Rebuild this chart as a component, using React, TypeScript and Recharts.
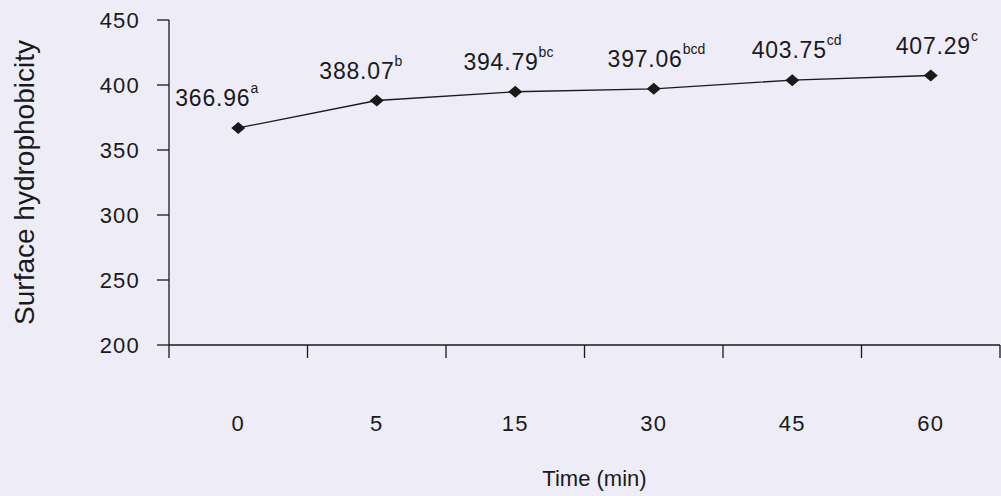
import { LineChart, Line, XAxis, YAxis, LabelList } from "recharts";

const times = ["0", "5", "15", "30", "45", "60"];
const hydrophobicity = [366.96, 388.07, 394.79, 397.06, 403.75, 407.29];
const letters = ["a", "b", "bc", "bcd", "cd", "c"];
const yTicks = [200, 250, 300, 350, 400, 450];

const INK = "#1a1a1a";
const FONT = "'Liberation Sans', Arial, sans-serif";

// slot centres sit at i + 0.5, slot boundaries on the integers
const data = times.map((t, i) => ({
  pos: i + 0.5,
  time: t,
  value: hydrophobicity[i],
  sup: letters[i],
}));
const xTicks = Array.from({ length: times.length * 2 + 1 }, (_, k) => k / 2);

function TimeTick(props: any) {
  const { x, y, payload } = props;
  const v = payload.value as number;
  if (Number.isInteger(v)) {
    return <line x1={x} y1={y} x2={x} y2={y + 13} stroke={INK} strokeWidth={1.3} />;
  }
  return (
    <text
      x={x}
      y={y + 78}
      textAnchor="middle"
      dominantBaseline="central"
      fill={INK}
      fontSize={22}
      letterSpacing={1.2}
      fontFamily={FONT}
    >
      {times[Math.floor(v)]}
    </text>
  );
}

function Diamond(props: any) {
  const { cx, cy } = props;
  if (cx == null || cy == null) return null;
  return (
    <polygon
      points={`${cx},${cy - 6} ${cx + 7},${cy} ${cx},${cy + 6} ${cx - 7},${cy}`}
      fill={INK}
    />
  );
}

function ValueLabel(props: any) {
  const { x, y, value, index } = props;
  const dx = -63 + 5.6 * index;
  return (
    <text
      x={x + dx}
      y={y - 30}
      dominantBaseline="central"
      fill={INK}
      fontSize={23}
      letterSpacing={0.8}
      fontFamily={FONT}
    >
      {Number(value).toFixed(2)}
      <tspan fontSize={14} dy={-10} letterSpacing={0}>
        {letters[index]}
      </tspan>
    </text>
  );
}

export default function App() {
  return (
    <div
      style={{
        position: "absolute",
        left: 0,
        top: 0,
        width: 1001,
        height: 496,
        background: "#edecf7",
      }}
    >
      <LineChart
        width={1001}
        height={496}
        data={data}
        margin={{ top: 20, right: 1, left: 0, bottom: 0 }}
      >
        <XAxis
          dataKey="pos"
          type="number"
          domain={[0, 6]}
          ticks={xTicks}
          interval={0}
          height={151}
          tickLine={false}
          tickSize={0}
          tickMargin={0}
          tick={<TimeTick />}
          axisLine={{ stroke: INK, strokeWidth: 1.3 }}
          label={({ viewBox }: any) => (
            <text
              x={viewBox.x + viewBox.width / 2 + 10}
              y={viewBox.y + 133}
              textAnchor="middle"
              dominantBaseline="central"
              fill={INK}
              fontSize={22}
              fontFamily={FONT}
            >
              Time (min)
            </text>
          )}
        />
        <YAxis
          type="number"
          domain={[200, 450]}
          ticks={yTicks}
          interval={0}
          width={169}
          tickSize={12}
          tickMargin={17}
          tickLine={{ stroke: INK, strokeWidth: 1.3 }}
          axisLine={{ stroke: INK, strokeWidth: 1.3 }}
          tick={{ fill: INK, fontSize: 22, fontFamily: FONT, letterSpacing: 1.2 }}
          label={({ viewBox }: any) => {
            const cx = viewBox.x + 24;
            const cy = viewBox.y + viewBox.height / 2;
            return (
              <text
                x={cx}
                y={cy}
                transform={`rotate(-90, ${cx}, ${cy})`}
                textAnchor="middle"
                dominantBaseline="central"
                fill={INK}
                fontSize={28}
                fontFamily={FONT}
              >
                Surface hydrophobicity
              </text>
            );
          }}
        />
        <Line
          dataKey="value"
          stroke={INK}
          strokeWidth={1.3}
          dot={<Diamond />}
          activeDot={false}
          isAnimationActive={false}
        >
          <LabelList dataKey="value" content={<ValueLabel />} />
        </Line>
      </LineChart>
    </div>
  );
}
